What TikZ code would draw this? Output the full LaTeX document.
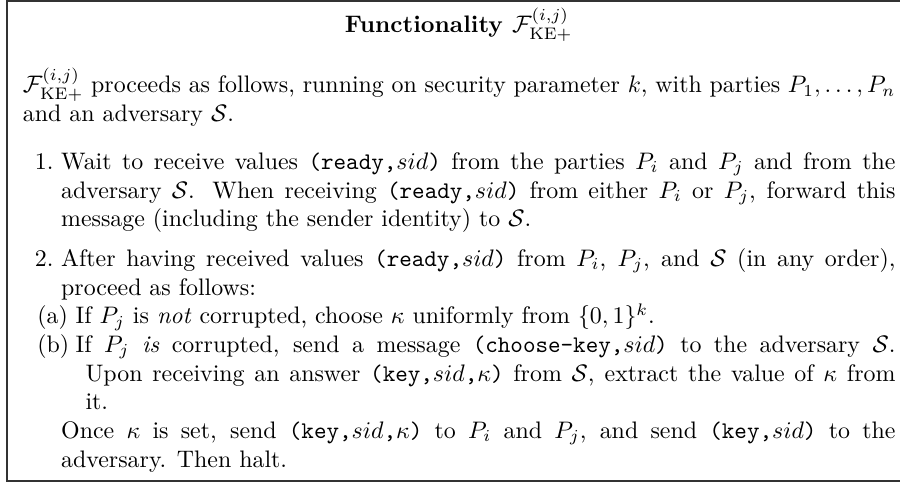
\documentclass[tikz,border=0pt]{standalone}
\newcommand{\msgtt}[1]{\texttt{#1}}
\newcommand{\advS}{\mathcal{S}}
\newcommand{\lablitem}[2]{\par{\leftskip=16pt\noindent\hspace*{-11pt}\makebox[11pt][l]{#1}#2\par}}
\newcommand{\sublitem}[2]{\par{\leftskip=26.2pt\noindent\hspace*{-20.2pt}\makebox[16.1pt][l]{#1}#2\par}}
\tikzset{
  frameline/.style={draw=black!80, line width=0.7pt},
  titletext/.style={font=\bfseries, inner sep=0pt},
  bodytext/.style={inner sep=0pt, text width=365.2pt, align=justify}
}
\begin{document}
\begin{tikzpicture}[x=1pt,y=1pt]
\useasboundingbox (0,0) rectangle (376.7,-202.2);
\coordinate (tl) at (2.8,-0.55);
\coordinate (tr) at (380,-0.55);
\coordinate (bl) at (2.8,-201.2);
\coordinate (br) at (380,-201.2);
\draw[frameline] (tr) -- (tl) -- (bl) -- (br);
\node[titletext, anchor=base] (title) at (192.0,-13.8)
  {Functionality $\mathcal{F}^{(i,j)}_{\mathrm{KE+}}$};
\node[bodytext, anchor=base west] (body) at (9.4,-38.9) {%
\setlength{\parindent}{0pt}%
$\mathcal{F}^{(i,j)}_{\mathrm{KE+}}$ proceeds as follows, running on security parameter $k$, with parties $P_1,\dots,P_n$\linebreak
and an adversary $\advS$.\par
\vspace{8pt}%
\lablitem{1.}{Wait to receive values \msgtt{(ready,}$sid$\msgtt{)} from the parties $P_i$ and $P_j$ and from the\linebreak
adversary $\advS$. When receiving \msgtt{(ready,}$sid$\msgtt{)} from either $P_i$ or $P_j$, forward this\linebreak
message (including the sender identity) to $\advS$.}%
\vspace{4.6pt}%
\lablitem{2.}{After having received values \msgtt{(ready,}$sid$\msgtt{)} from $P_i$, $P_j$, and $\advS$ (in any order),\linebreak
proceed as follows:}%
\sublitem{(a)}{If $P_j$ is \emph{not} corrupted, choose $\kappa$ uniformly from $\{0,1\}^k$.}%
\sublitem{(b)}{If $P_j$ \emph{is} corrupted, send a message \msgtt{(choose-key,}$sid$\msgtt{)} to the adversary $\advS$.\linebreak
Upon receiving an answer \msgtt{(key,}$sid$\msgtt{,}$\kappa$\msgtt{)} from $\advS$, extract the value of $\kappa$ from\linebreak
it.}%
{\leftskip=16pt\noindent Once $\kappa$ is set, send \msgtt{(key,}$sid$\msgtt{,}$\kappa$\msgtt{)} to $P_i$ and $P_j$, and send \msgtt{(key,}$sid$\msgtt{)} to the\linebreak
adversary. Then halt.\par}%
};
\end{tikzpicture}
\end{document}
